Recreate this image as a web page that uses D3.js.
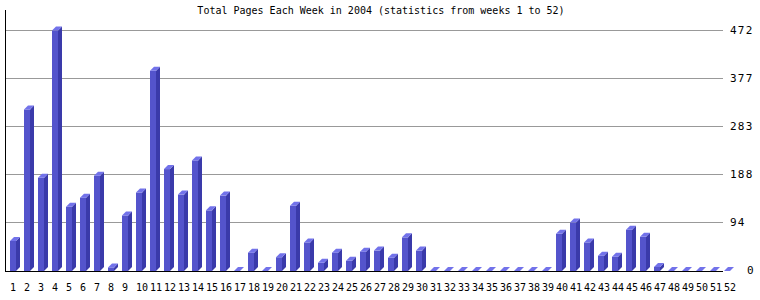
<!DOCTYPE html>
<html><head><meta charset="utf-8">
<script src="https://cdn.jsdelivr.net/npm/d3@7"></script>
<style>body{margin:0;background:#fff}svg{display:block}</style>
</head><body>
<script>
const weeks = d3.range(1, 53);
const pages = [59,317,183,472,126,144,187,7,109,154,393,200,150,217,119,148,0,36,0,27,128,56,16,36,20,38,40,26,66,40,0,0,0,0,0,0,0,0,0,73,95,56,30,28,81,67,8,0,0,0,0,0];
const maxVal = 472;
const tickFractions = [0, 0.2, 0.4, 0.6, 0.8, 1];
const title = "Total Pages Each Week in 2004 (statistics from weeks 1 to 52)";

const W = 760, H = 300;
const svg = d3.select("body").append("svg").attr("width", W).attr("height", H);
const font = "'DejaVu Sans Mono', monospace";

const x = d3.scaleBand().domain(weeks).range([10, 10 + 52 * 14]).padding(0);
const y = d3.scaleLinear().domain([0, maxVal]).range([271, 30.5]);
const plotLeft = 5, plotRight = 723;
const front = 6, depth = 4;

svg.append("text").attr("x", 381).attr("y", 14).attr("text-anchor", "middle")
  .attr("font-family", font).attr("font-size", 10).attr("fill", "#000").text(title);

// grid lines
const ticks = tickFractions.map(f => f * maxVal);
svg.selectAll("line.grid").data(ticks.filter(t => t > 0)).join("line")
  .attr("x1", plotLeft).attr("x2", plotRight)
  .attr("y1", d => Math.round(y(d)) + 0.5 - 1).attr("y2", d => Math.round(y(d)) + 0.5 - 1)
  .attr("stroke", "#999").attr("stroke-width", 1);

svg.selectAll("text.tick").data(ticks).join("text")
  .attr("x", d => d === 0 ? 747 : 730)
  .attr("y", d => y(d) + 3)
  .attr("font-family", font).attr("font-size", 11).attr("letter-spacing", 1.2)
  .attr("fill", "#000").text(d => Math.floor(d));

// bars
const g = svg.append("g");
weeks.forEach((w, i) => {
  const v = pages[i];
  const x0 = x(w), yt = y(v), yb = y(0);
  // side
  g.append("path").attr("d",
    `M${x0+front},${yb} L${x0+front},${yt} L${x0+front+depth},${yt-depth} L${x0+front+depth},${yb-depth} Z`)
    .attr("fill", "#3a3aaa");
  // front
  if (v > 0) g.append("rect").attr("x", x0).attr("y", yt).attr("width", front).attr("height", yb - yt)
    .attr("fill", "#5454cc");
  // top
  g.append("path").attr("d",
    `M${x0},${yt} L${x0+depth},${yt-depth} L${x0+front+depth},${yt-depth} L${x0+front},${yt} Z`)
    .attr("fill", "#7272ea");
});

// axes
svg.append("line").attr("x1", plotLeft).attr("x2", plotRight).attr("y1", 271.5).attr("y2", 271.5)
  .attr("stroke", "#000");
svg.append("line").attr("x1", plotLeft + 0.5).attr("x2", plotLeft + 0.5).attr("y1", 10).attr("y2", 272)
  .attr("stroke", "#000");

svg.selectAll("text.xl").data(weeks).join("text")
  .attr("x", d => x(d)).attr("y", 291)
  .attr("font-family", font).attr("font-size", 10).attr("fill", "#000").text(d => d);
</script>
</body></html>
